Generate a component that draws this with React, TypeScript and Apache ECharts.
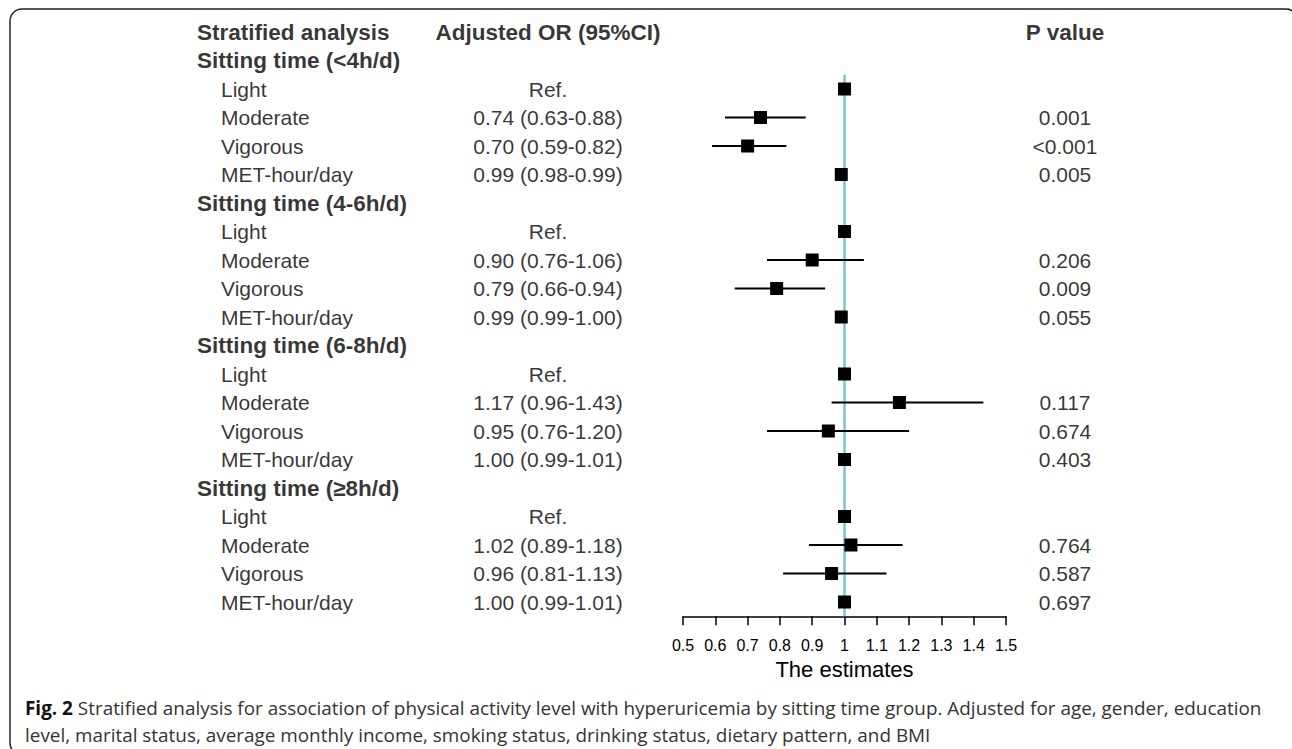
import React, { useEffect, useRef } from 'react';
import * as echarts from 'echarts';

// ---------- data ----------
const headers = ['Stratified analysis', 'Adjusted OR (95%CI)', 'P value'];
const groups = ['Sitting time (<4h/d)', 'Sitting time (4-6h/d)', 'Sitting time (6-8h/d)', 'Sitting time (≥8h/d)'];
const levels = ['Light', 'Moderate', 'Vigorous', 'MET-hour/day'];
const estimates = [
  [1, 0.74, 0.70, 0.99],
  [1, 0.90, 0.79, 0.99],
  [1, 1.17, 0.95, 1.00],
  [1, 1.02, 0.96, 1.00],
];
const lowers = [
  [null, 0.63, 0.59, 0.98],
  [null, 0.76, 0.66, 0.99],
  [null, 0.96, 0.76, 0.99],
  [null, 0.89, 0.81, 0.99],
];
const uppers = [
  [null, 0.88, 0.82, 0.99],
  [null, 1.06, 0.94, 1.00],
  [null, 1.43, 1.20, 1.01],
  [null, 1.18, 1.13, 1.01],
];
const pValues = [
  ['', '0.001', '<0.001', '0.005'],
  ['', '0.206', '0.009', '0.055'],
  ['', '0.117', '0.674', '0.403'],
  ['', '0.764', '0.587', '0.697'],
];
const refLabel = 'Ref.';
const refValue = 1;
const xMin = 0.5;
const xMax = 1.5;
const xStep = 0.1;
const axisName = 'The estimates';
const captionBold = 'Fig. 2';
const captionLine1 = ' Stratified analysis for association of physical activity level with hyperuricemia by sitting time group. Adjusted for age, gender, education';
const captionLine2 = 'level, marital status, average monthly income, smoking status, drinking status, dietary pattern, and BMI';

// ---------- layout ----------
const W = 1292;
const H = 749;
const FONT = '"Liberation Sans", Arial, sans-serif';
const CAP_FONT = '"Open Sans", sans-serif';
const CAP_SIZE = 19;
const colMain = 197;
const colSub = 221;
const colOR = 548;
const colP = 1065;
const gridTop = 17.75;
const gridHeight = 598.5;
const rowsMax = 20;

function groupRow(g: number) { return 1 + 5 * g; }
function itemRow(g: number, i: number) { return 2 + 5 * g + i; }

function fmt(v: number) { return v.toFixed(2); }

export default function App() {
  const ref = useRef<HTMLDivElement>(null);
  useEffect(() => {
    document.body.style.margin = '0';
    if (!ref.current) return;
    const chart = echarts.init(ref.current, null, { renderer: 'svg' });

    const leftBold: any[] = [{ value: [colMain, 0], name: headers[0] }];
    const centerBold: any[] = [
      { value: [colOR, 0], name: headers[1] },
      { value: [colP, 0], name: headers[2] },
    ];
    const leftPlain: any[] = [];
    const centerPlain: any[] = [];
    const squares: any[] = [];
    const ci: any[] = [];
    groups.forEach((gName, g) => {
      leftBold.push({ value: [colMain, groupRow(g)], name: gName });
      levels.forEach((lv, i) => {
        const r = itemRow(g, i);
        leftPlain.push({ value: [colSub, r], name: lv });
        const est = estimates[g][i];
        const lo = lowers[g][i];
        const hi = uppers[g][i];
        const orText = lo == null || hi == null ? refLabel : `${fmt(est)} (${fmt(lo)}-${fmt(hi)})`;
        centerPlain.push({ value: [colOR, r], name: orText });
        if (pValues[g][i]) centerPlain.push({ value: [colP, r], name: pValues[g][i] });
        squares.push([est, r]);
        if (lo != null && hi != null) ci.push([lo, hi, r]);
      });
    });

    const textSeries = (data: any[], bold: boolean, align: 'left' | 'center') => ({
      type: 'scatter',
      xAxisIndex: 1,
      yAxisIndex: 1,
      symbolSize: 0.001,
      itemStyle: { color: 'transparent' },
      silent: true,
      data,
      label: {
        show: true,
        position: align === 'left' ? 'right' : 'inside',
        distance: 0,
        formatter: '{b}',
        fontFamily: FONT,
        fontSize: bold ? 22.5 : 21,
        fontWeight: bold ? 'bold' : 'normal',
        color: '#000',
      },
    });

    const cv = document.createElement('canvas');
    const ctx = cv.getContext('2d')!;
    ctx.font = `bold ${CAP_SIZE}px ${CAP_FONT}`;
    const wb = ctx.measureText(captionBold).width;
    ctx.font = `${CAP_SIZE}px ${CAP_FONT}`;
    const wr = ctx.measureText(captionLine1).width;
    const capScale = 1237 / (wb + wr);

    chart.setOption({
      animation: false,
      backgroundColor: '#fff',
      grid: [
        { left: 683, width: 323, top: gridTop, height: gridHeight },
        { left: 0, width: W, top: gridTop, height: gridHeight },
      ],
      xAxis: [
        {
          type: 'value',
          gridIndex: 0,
          min: xMin,
          max: xMax,
          interval: xStep,
          splitLine: { show: false },
          axisLine: { show: true, onZero: false, lineStyle: { color: '#000', width: 1.5 } },
          axisTick: { show: true, length: 9, lineStyle: { color: '#000', width: 1.5 } },
          axisLabel: {
            fontFamily: FONT,
            fontSize: 16,
            color: '#000',
            margin: 21,
            formatter: (v: number) => String(Math.round(v * 10) / 10),
          },
          name: axisName,
          nameLocation: 'middle',
          nameGap: 40,
          nameTextStyle: { fontFamily: FONT, fontSize: 22, color: '#000' },
        },
        { type: 'value', gridIndex: 1, min: 0, max: W, show: false },
      ],
      yAxis: [
        { type: 'value', gridIndex: 0, min: -0.5, max: rowsMax + 0.5, inverse: true, show: false },
        { type: 'value', gridIndex: 1, min: -0.5, max: rowsMax + 0.5, inverse: true, show: false },
      ],
      series: [
        {
          type: 'line',
          xAxisIndex: 0,
          yAxisIndex: 0,
          data: [[refValue, 1.5], [refValue, rowsMax + 0.5]],
          symbol: 'none',
          lineStyle: { color: '#74C6CF', width: 2.5 },
          silent: true,
          z: 1,
        },
        {
          type: 'custom',
          xAxisIndex: 0,
          yAxisIndex: 0,
          data: ci,
          encode: { x: [0, 1], y: 2 },
          renderItem: (params: any, api: any) => {
            const p1 = api.coord([api.value(0), api.value(2)]);
            const p2 = api.coord([api.value(1), api.value(2)]);
            return {
              type: 'line',
              shape: { x1: p1[0], y1: p1[1], x2: p2[0], y2: p2[1] },
              style: { stroke: '#000', lineWidth: 2.2 },
            };
          },
          z: 2,
        },
        {
          type: 'scatter',
          xAxisIndex: 0,
          yAxisIndex: 0,
          data: squares,
          symbol: 'rect',
          symbolSize: 13,
          itemStyle: { color: '#000', opacity: 1 },
          z: 3,
        },
        textSeries(leftBold, true, 'left'),
        textSeries(centerBold, true, 'center'),
        textSeries(leftPlain, false, 'left'),
        textSeries(centerPlain, false, 'center'),
      ],
      graphic: [
        {
          type: 'rect',
          shape: { x: 10, y: 9, width: 1288, height: 746, r: 12 },
          style: { fill: 'none', stroke: '#222', lineWidth: 1.5 },
          silent: true,
        },
        {
          type: 'text',
          x: 25,
          y: 708,
          scaleX: capScale,
          style: {
            text: `{b|${captionBold}}${captionLine1}`,
            fontFamily: CAP_FONT,
            fontSize: CAP_SIZE,
            fill: '#333',
            verticalAlign: 'middle',
            rich: { b: { fontWeight: 'bold', fontFamily: CAP_FONT, fontSize: CAP_SIZE, fill: '#111' } },
          },
        },
        {
          type: 'text',
          x: 25,
          y: 735,
          scaleX: capScale,
          style: {
            text: captionLine2,
            fontFamily: CAP_FONT,
            fontSize: CAP_SIZE,
            fill: '#333',
            verticalAlign: 'middle',
          },
        },
      ],
    });
    return () => chart.dispose();
  }, []);
  return <div ref={ref} style={{ width: W, height: H }} />;
}
